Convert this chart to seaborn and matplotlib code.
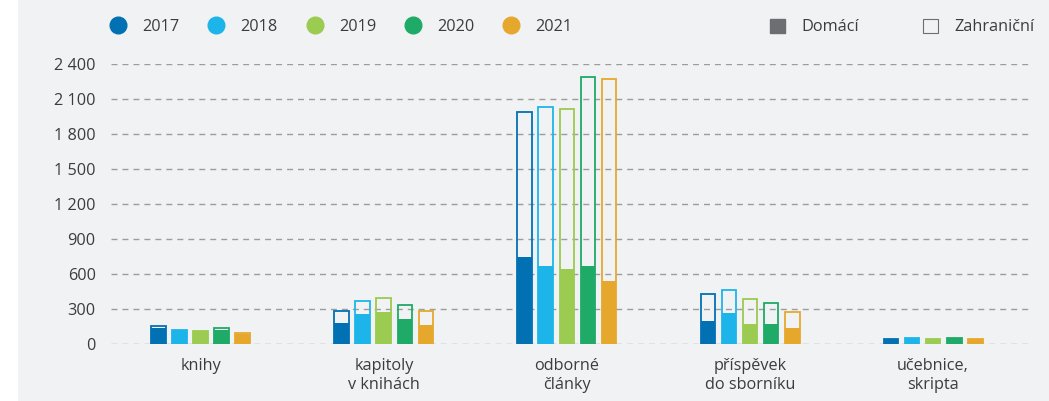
import numpy as np
import pandas as pd
import seaborn as sns
import matplotlib.pyplot as plt
from matplotlib.lines import Line2D
from matplotlib.patches import Patch, Rectangle

# Data
categories = ['knihy', 'kapitoly\nv knihách', 'odborné\nčlánky',
              'příspěvek\ndo sborníku', 'učebnice,\nskripta']
years = ['2017', '2018', '2019', '2020', '2021']

# domestic output per category, one list per year
domestic = {
    '2017': [140, 184, 746, 200, 43],
    '2018': [120, 258, 669, 266, 51],
    '2019': [112, 275, 643, 171, 43],
    '2020': [118, 215, 669, 171, 51],
    '2021': [85, 167, 540, 137, 43],
}
# total (domestic + foreign) per category
total = {
    '2017': [156, 283, 1986, 426, 44],
    '2018': [123, 371, 2034, 463, 52],
    '2019': [115, 391, 2011, 383, 44],
    '2020': [140, 334, 2286, 349, 52],
    '2021': [98, 283, 2269, 274, 44],
}
yticks = [0, 300, 600, 900, 1200, 1500, 1800, 2100, 2400]

colors = ['#0171b3', '#1db5e9', '#9bcb50', '#1fab67', '#e6a82c']
bg = '#f1f2f4'
text_color = '#3c3c3c'
fs = 11.7

rows = []
for y in years:
    for i, c in enumerate(categories):
        rows.append({'kategorie': c, 'rok': y,
                     'domaci': domestic[y][i], 'celkem': total[y][i]})
df = pd.DataFrame(rows)

sns.set_style('white')
plt.rcParams['font.family'] = ['Open Sans', 'DejaVu Sans']

fig = plt.figure(figsize=(10.49, 4.01), dpi=100, facecolor=bg)
fig.patches.append(Rectangle((0, 0), 18 / 1049, 1, transform=fig.transFigure,
                             facecolor='white', edgecolor='none', zorder=-1))
ax = fig.add_axes([111 / 1049, 1 - 344 / 401, (1032 - 111) / 1049, (344 - 64) / 401])
ax.set_facecolor(bg)

# Foreign part: outlined bar up to total
sns.barplot(data=df, x='kategorie', y='celkem', hue='rok', order=categories,
            hue_order=years, palette=colors, fill=False, linewidth=1.3,
            width=0.575, gap=0.3, errorbar=None, legend=False, ax=ax)
# Domestic part: filled bar
sns.barplot(data=df, x='kategorie', y='domaci', hue='rok', order=categories,
            hue_order=years, palette=colors, saturation=1, linewidth=0,
            width=0.575, gap=0.3, errorbar=None, legend=False, ax=ax)

ax.set_xlim(-0.49, 4.54)
ax.set_ylim(0, 2400)
ax.set_yticks(yticks)
ax.set_yticklabels([f'{v:,}'.replace(',', ' ') for v in yticks])
ax.grid(axis='y', color='#9c9c9c', linestyle=(0, (4.3, 3.6)), linewidth=1.0)
ax.set_axisbelow(True)
for s in ax.spines.values():
    s.set_visible(False)
ax.tick_params(axis='y', length=0, pad=11, labelsize=fs, labelcolor=text_color)
ax.tick_params(axis='x', length=0, pad=10, labelsize=fs, labelcolor=text_color)
for lbl in ax.get_xticklabels():
    lbl.set_linespacing(1.25)
ax.set_xlabel('')
ax.set_ylabel('')

# Year legend
year_handles = [Line2D([], [], marker='o', linestyle='none', markersize=12,
                       markerfacecolor=c, markeredgecolor=c) for c in colors]
fig.legend(year_handles, years, loc='center left', ncol=5,
           bbox_to_anchor=(110 / 1049, 1 - 27 / 401), frameon=False,
           fontsize=fs, handlelength=1.0, handletextpad=1.0, columnspacing=1.75,
           borderpad=0, borderaxespad=0, labelcolor=text_color)

type_handles = [Patch(facecolor='#6d6e71', edgecolor='#6d6e71'),
                Patch(facecolor='none', edgecolor='#6d6e71', linewidth=0.8)]
fig.legend(type_handles, ['Domácí', 'Zahraniční'], loc='center left', ncol=2,
           bbox_to_anchor=(770 / 1049, 1 - 27 / 401), frameon=False,
           fontsize=fs, handlelength=0.95, handleheight=1.0,
           handletextpad=1.0, columnspacing=3.9, borderpad=0, borderaxespad=0,
           labelcolor=text_color)

fig.savefig('out.png', dpi=100, facecolor=bg)
